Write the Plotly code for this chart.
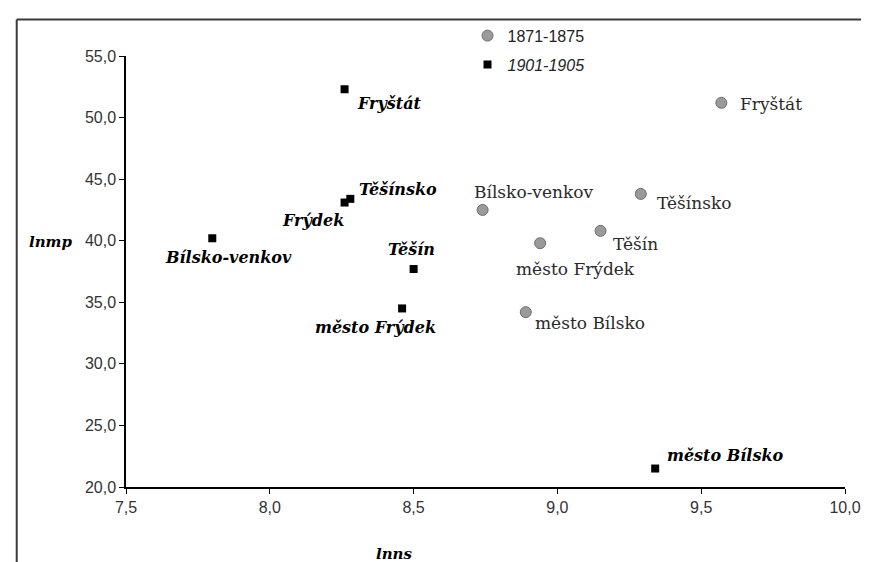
import plotly.graph_objects as go

# ---- data ----
names_1871 = ["Fryštát", "Bílsko-venkov", "Těšínsko", "Těšín", "město Frýdek", "město Bílsko"]
lnns_1871 = [9.57, 8.74, 9.29, 9.15, 8.94, 8.89]
lnmp_1871 = [51.2, 42.5, 43.8, 40.8, 39.8, 34.2]

names_1901 = ["Fryštát", "Těšínsko", "Frýdek", "Bílsko-venkov", "Těšín", "město Frýdek", "město Bílsko"]
lnns_1901 = [8.26, 8.28, 8.26, 7.80, 8.50, 8.46, 9.34]
lnmp_1901 = [52.3, 43.4, 43.1, 40.2, 37.7, 34.5, 21.5]

x_ticks = [7.5, 8.0, 8.5, 9.0, 9.5, 10.0]
y_ticks = [20, 25, 30, 35, 40, 45, 50, 55]

# ---- label placement (style only) ----
off_1871 = {
    "Fryštát": ("left", 17, -1),
    "Bílsko-venkov": ("center", 51, 18),
    "Těšínsko": ("left", 14, -9),
    "Těšín": ("left", 10, -13),
    "město Frýdek": ("center", 35, -26),
    "město Bílsko": ("left", 7, -11),
}
off_1901 = {
    "Fryštát": ("left", 10, -14),
    "Těšínsko": ("left", 7, 9),
    "Frýdek": ("right", 1, -18),
    "Bílsko-venkov": ("center", 16, -19),
    "Těšín": ("center", -2, 20),
    "město Frýdek": ("center", -27, -19),
    "město Bílsko": ("left", 10, 13),
}

SERIF = "DejaVu Serif, Liberation Serif, serif"
SANS = "Liberation Sans, Arial, sans-serif"

fig = go.Figure()
fig.add_trace(go.Scatter(
    x=lnns_1871, y=lnmp_1871, mode="markers", name="1871-1875",
    legendgroup="a",
    marker=dict(symbol="circle", size=11, color="#9a9a9a",
                line=dict(color="#6e6e6e", width=1)),
))
fig.add_trace(go.Scatter(
    x=lnns_1901, y=lnmp_1901, mode="markers", name="<i>1901-1905</i>",
    legendgroup="b",
    marker=dict(symbol="square", size=8, color="#000000",
                line=dict(color="#000000", width=0)),
))

annotations = []
for n, xv, yv in zip(names_1871, lnns_1871, lnmp_1871):
    anc, dx, dy = off_1871[n]
    annotations.append(dict(
        x=xv, y=yv, xref="x", yref="y", text=n, showarrow=False,
        xanchor=anc, yanchor="middle", xshift=dx, yshift=dy,
        font=dict(family=SERIF, size=17, color="#2a2a2a"),
    ))
for n, xv, yv in zip(names_1901, lnns_1901, lnmp_1901):
    anc, dx, dy = off_1901[n]
    annotations.append(dict(
        x=xv, y=yv, xref="x", yref="y", text=f"<b><i>{n}</i></b>", showarrow=False,
        xanchor=anc, yanchor="middle", xshift=dx, yshift=dy,
        font=dict(family=SERIF, size=16, color="#000000"),
    ))

# axis titles (horizontal)
annotations.append(dict(
    x=-0.105, y=0.569, xref="paper", yref="paper", text="<b><i>lnmp</i></b>",
    showarrow=False, xanchor="center", yanchor="middle",
    font=dict(family=SERIF, size=15, color="#000000"),
))
annotations.append(dict(
    x=0.374, y=-0.156, xref="paper", yref="paper", text="<b><i>lnns</i></b>",
    showarrow=False, xanchor="center", yanchor="middle",
    font=dict(family=SERIF, size=15, color="#000000"),
))

shapes = [
    dict(type="line", xref="paper", yref="paper", x0=-0.152, x1=1.08, y0=1.0848, y1=1.0848,
         line=dict(color="#3a3a3a", width=2)),
    dict(type="line", xref="paper", yref="paper", x0=-0.152, x1=-0.152, y0=1.0848, y1=-0.21,
         line=dict(color="#3a3a3a", width=2)),
]

fig.update_layout(
    width=869, height=562,
    margin=dict(l=118, r=32, t=47, b=83, pad=0),
    paper_bgcolor="white", plot_bgcolor="white",
    separators=", ",
    showlegend=True,
    legend=dict(x=0.475, y=1.084, xanchor="left", yanchor="top",
                bgcolor="rgba(0,0,0,0)", font=dict(family=SANS, size=16, color="#222222"),
                tracegroupgap=5, traceorder="grouped", itemwidth=30),
    annotations=annotations,
    shapes=shapes,
    xaxis=dict(range=[7.5, 10.0], tickvals=x_ticks, tickformat=".1f",
               showgrid=False, zeroline=False, showline=True, linecolor="#000000",
               linewidth=1.5, ticks="outside", ticklen=5, tickcolor="#000000", tickwidth=1,
               tickfont=dict(family=SANS, size=16, color="#333333")),
    yaxis=dict(range=[20, 55], tickvals=y_ticks, tickformat=".1f",
               showgrid=False, zeroline=False, showline=True, linecolor="#000000",
               linewidth=1.5, ticks="outside", ticklen=5, tickcolor="#000000", tickwidth=1,
               tickfont=dict(family=SANS, size=16, color="#333333")),
)

fig.write_html("out.html")
